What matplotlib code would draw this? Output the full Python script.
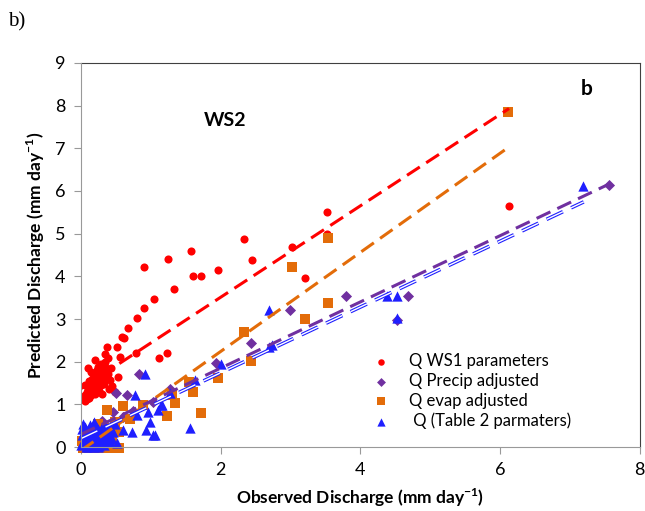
import numpy as np
import matplotlib.pyplot as plt

plt.rcParams['font.family'] = ['Lato', 'DejaVu Sans']

## the data

# Q WS1 parameters
ws1_x = [0.04, 0.05, 0.06, 0.07, 0.08, 0.08, 0.09, 0.10, 0.10, 0.11, 0.12, 0.12,
         0.13, 0.14, 0.14, 0.15, 0.16, 0.16, 0.17, 0.18, 0.18, 0.19, 0.20, 0.20,
         0.21, 0.22, 0.22, 0.23, 0.24, 0.25, 0.25, 0.26, 0.27, 0.28, 0.29, 0.30,
         0.31, 0.32, 0.33, 0.34, 0.36, 0.38, 0.40, 0.42, 0.45, 0.48, 0.53, 0.10,
         0.06, 0.20, 0.43, 0.30, 0.15, 0.38, 0.12, 0.26, 0.35,
         0.34, 0.37, 0.51, 0.56, 0.59, 0.61, 0.67, 0.79, 0.80, 0.90, 0.90, 1.04,
         1.11, 1.23, 1.24, 1.33, 1.57, 1.61, 1.72, 1.96, 2.33, 2.45, 3.02, 3.21,
         3.53, 3.53, 6.13, 6.10]
ws1_y = [1.14, 1.08, 1.22, 1.17, 1.30, 1.12, 1.25, 1.20, 1.38, 1.32, 1.15, 1.45,
         1.28, 1.40, 1.22, 1.52, 1.35, 1.60, 1.30, 1.45, 1.68, 1.38, 1.55, 1.25,
         1.72, 1.48, 1.62, 1.80, 1.42, 1.58, 1.88, 1.50, 1.70, 1.95, 1.45, 1.65,
         1.55, 1.78, 1.48, 2.00, 1.62, 1.72, 1.35, 1.58, 1.42, 1.28, 1.64, 1.85,
         1.45, 2.05, 1.85, 1.25, 1.75, 2.08, 1.55, 1.32, 1.88,
         2.17, 2.34, 2.34, 2.10, 2.58, 2.55, 2.79, 2.20, 3.02, 3.26, 4.22, 3.47,
         2.08, 2.20, 4.40, 3.70, 4.59, 4.00, 4.00, 4.16, 4.87, 4.38, 4.68, 3.95,
         5.50, 5.00, 5.65, 7.87]

# Q Precip adjusted
pre_x = [0.00, 0.02, 0.04, 0.05, 0.07, 0.09, 0.10, 0.12, 0.15, 0.18, 0.20, 0.22,
         0.25, 0.28, 0.30, 0.33, 0.36, 0.40, 0.46, 0.50, 0.66, 0.83, 1.03, 1.27,
         1.94, 2.44, 3.00, 3.79, 4.53, 4.69, 7.56, 0.60, 0.75, 0.30, 0.12]
pre_y = [0.48, 0.30, 0.15, 0.40, 0.22, 0.10, 0.35, 0.25, 0.45, 0.20, 0.32, 0.55,
         0.28, 0.40, 0.18, 0.50, 0.35, 0.42, 0.82, 1.26, 1.22, 1.72, 1.05, 1.35,
         1.96, 2.45, 3.21, 3.53, 2.98, 3.53, 6.13, 0.70, 0.85, 0.62, 0.05]

# Q evap adjusted
evp_x = [0.03, 0.07, 0.11, 0.15, 0.19, 0.23, 0.27, 0.31, 0.35, 0.39, 0.43, 0.47,
         0.51, 0.55, 0.02, 0.08, 0.14, 0.22, 0.28, 0.33, 0.38, 0.44, 0.18, 0.25,
         0.37, 0.60, 0.89, 1.23, 1.31, 1.34, 1.54, 1.61, 1.72, 1.96, 2.33, 2.44,
         3.02, 3.21, 3.54, 3.54, 6.12, 0.48, 0.70, 0.55]
evp_y = [-0.02, -0.02, -0.02, -0.02, -0.02, -0.02, -0.02, -0.02, -0.02, -0.02,
         -0.02, -0.02, -0.02, -0.02, 0.15, 0.25, 0.10, 0.35, 0.20, 0.45, 0.30,
         0.15, 0.40, 0.55, 0.87, 0.97, 0.98, 0.72, 1.22, 1.03, 1.52, 1.28, 0.79,
         1.63, 2.70, 2.02, 4.22, 3.00, 3.37, 4.89, 7.85, 0.60, 0.65, 0.35]

# Q (Table 2 parmaters)
tab_x = [0.00, 0.01, 0.02, 0.03, 0.04, 0.05, 0.06, 0.07, 0.08, 0.09, 0.10, 0.11,
         0.12, 0.13, 0.14, 0.15, 0.16, 0.17, 0.18, 0.19, 0.20, 0.21, 0.22, 0.23,
         0.24, 0.25, 0.26, 0.27, 0.28, 0.29, 0.30, 0.31, 0.32, 0.33, 0.34, 0.35,
         0.36, 0.37, 0.38, 0.40, 0.42, 0.44, 0.46, 0.48, 0.03, 0.07, 0.13, 0.19,
         0.26, 0.34, 0.41, 0.10, 0.18, 0.24,
         0.51, 0.60, 0.73, 0.77, 0.80, 0.91, 0.93, 0.96, 0.99, 1.03, 1.06, 1.10,
         1.14, 1.16, 1.27, 1.56, 1.63, 2.01, 2.69, 2.73, 2.69, 4.38, 4.52, 4.52,
         7.19]
tab_y = [0.05, 0.28, 0.42, 0.12, 0.35, 0.20, 0.48, 0.08, 0.30, 0.15, 0.40, 0.22,
         0.05, 0.33, 0.18, 0.45, 0.10, 0.28, 0.38, 0.02, 0.25, 0.50, 0.14, 0.32,
         0.06, 0.42, 0.20, 0.36, 0.10, 0.28, 0.48, 0.16, 0.38, 0.05, 0.30, 0.52,
         0.22, 0.12, 0.40, 0.28, 0.46, 0.18, 0.35, 0.55, 0.55, 0.00, 0.52, 0.00,
         0.02, 0.50, 0.12, 0.00, 0.58, 0.00,
         0.10, 0.40, 0.35, 1.22, 0.75, 1.71, 0.40, 0.82, 0.59, 0.28, 0.28, 0.87,
         0.98, 0.98, 1.26, 0.44, 1.57, 1.94, 3.21, 2.40, 2.34, 3.53, 3.53, 3.02,
         6.11]

# linear trend lines (intercept, slope, x max)
ws1_fit = [1.37, 1.07, 6.13]
pre_fit = [0.30, 0.775, 7.56]
evp_fit = [-0.08, 1.16, 6.10]
tab_fit = [0.20, 0.77, 7.20]

c_red = '#ff0000'
c_pur = '#7030a0'
c_org = '#e36c09'
c_blu = '#1f1fff'

fig = plt.figure(figsize=(6.45, 5.11), dpi=100)
ax = fig.add_axes([0.1256, 0.125, 0.866, 0.752])

## the points
ax.scatter(ws1_x, ws1_y, s=34, marker='o', color=c_red, lw=0, zorder=2,
           label='Q WS1 parameters')
ax.scatter(pre_x, pre_y, s=32, marker='D', color=c_pur, lw=0, zorder=2,
           label='Q Precip adjusted')
ax.scatter(evp_x, evp_y, s=46, marker='s', color=c_org, lw=0, zorder=2,
           clip_on=False, label='Q evap adjusted')
ax.scatter(tab_x, tab_y, s=55, marker='^', color=c_blu, lw=0, zorder=2,
           clip_on=False, label=' Q (Table 2 parmaters)')

## the trend lines
def trend(fit):
    xx = np.array([0.0, fit[2]])
    return xx, fit[0] + fit[1] * xx

xx, yy = trend(ws1_fit)
ax.plot(xx, yy, color=c_red, lw=2.2, dashes=(5, 2.5), zorder=3)
xx, yy = trend(evp_fit)
ax.plot(xx, yy, color=c_org, lw=2.2, dashes=(5, 2.5), zorder=3)
xx, yy = trend(tab_fit)
ax.plot(xx, yy, color=c_blu, lw=2.6, dashes=(5, 2.5), zorder=3)
ax.plot(xx, yy, color='white', lw=1.0, dashes=(13, 6.5), zorder=3)
xx, yy = trend(pre_fit)
ax.plot(xx, yy, color=c_pur, lw=2.2, dashes=(5, 2.5), zorder=3)

# axes and labels
ax.set_xlim(0, 8)
ax.set_ylim(0, 9)
ax.set_xticks(np.arange(0, 9, 2))
ax.set_yticks(np.arange(0, 10, 1))
ax.tick_params(direction='out', length=5, color='#999999', labelsize=13, pad=6)
for s in ['left', 'bottom']:
    ax.spines[s].set_color('#999999')
    ax.spines[s].set_zorder(4)
for s in ['top', 'right']:
    ax.spines[s].set_color('#404040')
ax.set_xlabel('Observed Discharge (mm day$^{\\mathregular{-1}}$)', fontsize=12.5,
              fontweight='bold', labelpad=6)
ax.set_ylabel('Predicted Discharge (mm day$^{\\mathregular{-1}}$)', fontsize=12.5,
              fontweight='bold', labelpad=6)

ax.text(0.258, 0.851, 'WS2', transform=ax.transAxes, fontsize=14,
        fontweight='bold', ha='center', va='center')
ax.text(0.905, 0.932, 'b', transform=ax.transAxes, fontsize=15,
        fontweight='bold', ha='center', va='center')
fig.text(0.012, 0.958, 'b)', fontsize=15, family='Liberation Serif',
         va='center')

## add a legend
ax.legend(loc='upper left', bbox_to_anchor=(0.48, 0.283), frameon=False,
          fontsize=12, handletextpad=0.7, labelspacing=0.22, markerscale=0.8)

plt.savefig('out.png', dpi=100)
